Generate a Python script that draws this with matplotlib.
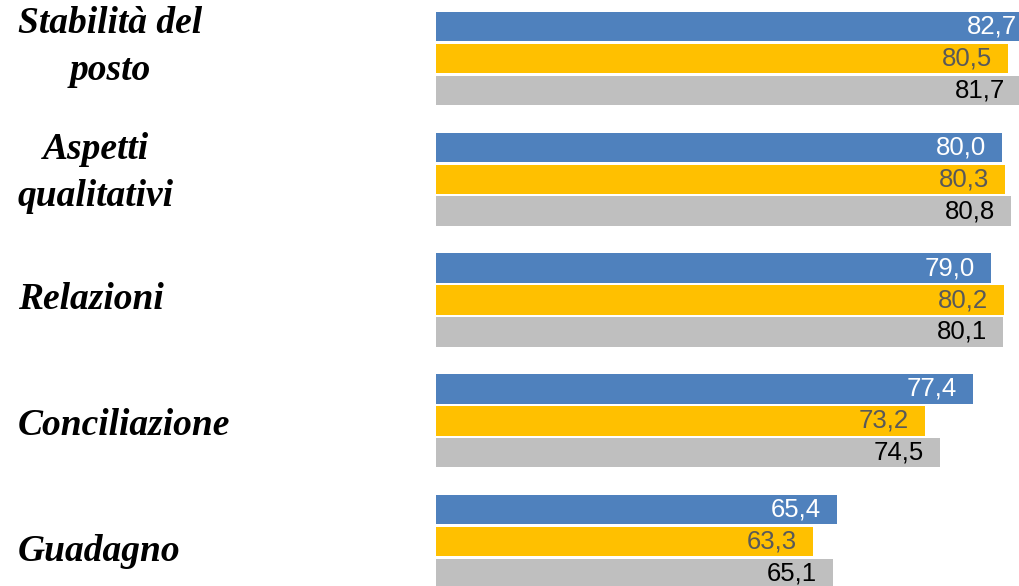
import matplotlib.pyplot as plt
from matplotlib import transforms
import numpy as np

# Data
categories = ['Stabilità del\nposto', 'Aspetti\nqualitativi', 'Relazioni',
              'Conciliazione', 'Guadagno']
serie_blu = [82.7, 80.0, 79.0, 77.4, 65.4]
serie_gialla = [80.5, 80.3, 80.2, 73.2, 63.3]
serie_grigia = [81.7, 80.8, 80.1, 74.5, 65.1]

colors = ['#4F81BD', '#FFC000', '#BFBFBF']
label_colors = ['white', '#595959', 'black']

fig = plt.figure(figsize=(10.2, 5.86), dpi=100)
ax = fig.add_axes([436 / 1020, 0, 584 / 1020, 1])

y = np.arange(len(categories))
slot = 31.8 / 120.75      # bar spacing, in group units
height = 29.5 / 120.75

for k, (vals, col, lcol) in enumerate(zip([serie_blu, serie_gialla, serie_grigia],
                                          colors, label_colors)):
    pos = y + (k - 1) * slot
    ax.barh(pos, vals, height=height, color=col)
    for p, v in zip(pos, vals):
        # value label right-aligned inside the bar end
        ax.annotate(f'{v:.1f}'.replace('.', ','), (v, p),
                    xytext=(-11.5, 0), textcoords='offset points',
                    ha='right', va='center', fontsize=18.5,
                    family='Liberation Sans', color=lcol,
                    annotation_clip=False)

ax.set_xlim(30, 30 + 584 / 11.32)
ax.set_ylim(4.3685, -0.4845)
ax.axis('off')

# category labels on the left (x in figure coords, y in data coords)
trans = transforms.blended_transform_factory(fig.transFigure, ax.transData)
for i, cat in enumerate(categories):
    ax.text(18 / 1020, i * 1.0435 - 0.095, cat, transform=trans,
            ha='left', va='center', multialignment='center',
            fontsize=27, family='Liberation Serif', style='italic',
            weight='bold', linespacing=1.43)

fig.savefig('out.png', dpi=100)
